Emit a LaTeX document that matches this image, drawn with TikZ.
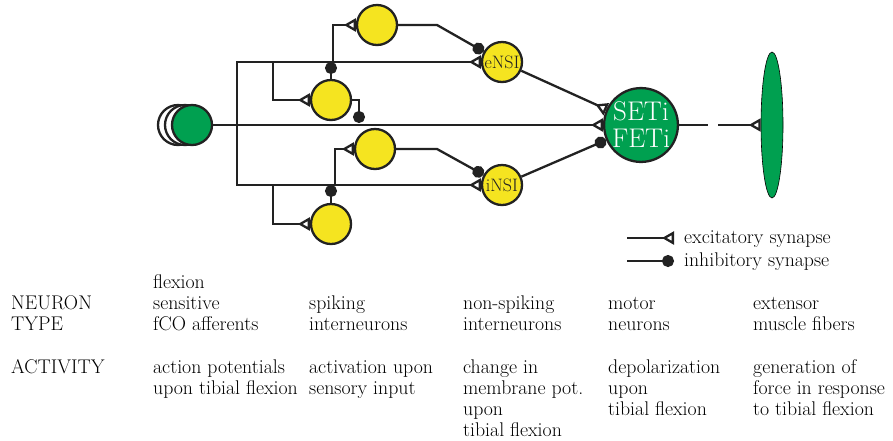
\documentclass[tikz,border=0pt]{standalone}
\usetikzlibrary{arrows.meta,shapes.geometric}
\definecolor{nyellow}{RGB}{245,228,32}
\definecolor{ngreen}{RGB}{0,160,80}
\definecolor{nline}{RGB}{34,34,34}

\begin{document}
\begin{tikzpicture}[x=1pt,y=-1pt,line width=2.3pt,
		neuron/.style={circle,draw=nline,fill=nyellow,minimum size=40pt,inner sep=0pt,text=nline,font=\fontsize{18}{18}\selectfont},
		motor/.style={circle,draw=nline,fill=ngreen,minimum size=72pt,inner sep=0pt,align=center,text=white,font=\fontsize{27}{27}\selectfont},
		afferent/.style={circle,draw=nline,fill=white,minimum size=40pt,inner sep=0pt},
		exc/.style={draw=nline,-{Triangle[open,reversed,length=12pt,width=13pt]}},
		inh/.style={draw=nline,-{Circle[length=12pt]}},
		cell/.style={anchor=north west,inner sep=0pt,align=left,font=\fontsize{19.8}{21}\selectfont},
		legend/.style={anchor=base west,inner sep=0pt,font=\fontsize{19.8}{21}\selectfont}]
			\useasboundingbox (0,0) rectangle (893,440);
			\node[afferent] (aff3) at (178,125) {};
			\node[afferent] (aff2) at (185,125) {};
			\node[afferent,fill=ngreen] (aff) at (192,125) {};
			\node[neuron] (si1) at (377,25) {};
			\node[neuron] (si2) at (331,100) {};
			\node[neuron] (si3) at (375,149) {};
			\node[neuron] (si4) at (331,224) {};
			\node[neuron] (ensi) at (502,62) {eNSI};
			\node[neuron] (insi) at (502,185) {iNSI};
			\node[motor] (mn) at (641,125) {SETi\\FETi};
			\node[ellipse,draw=black,line width=0.6pt,fill=ngreen,minimum width=22pt,minimum height=146pt,inner sep=0pt] (muscle) at (772,125) {};
			\coordinate (trunk) at (237,125);
			\coordinate (b1) at (333,62);
			\coordinate (b2) at (273,62);
			\coordinate (b3) at (335,185);
			\coordinate (b4) at (273,185);
			\coordinate (k1) at (437,25);
			\coordinate (k2) at (437,149);
			\coordinate (m1) at (359,123);
			\coordinate (d1) at (708,125);
			\coordinate (d2) at (718,125);
			\draw[exc] (aff.east) -- (mn.west);
			\draw[exc] (trunk) |- (ensi);
			\draw[exc] (trunk) |- (insi);
			\draw[exc] (b1) |- (si1);
			\draw[exc] (b2) |- (si2);
			\draw[exc] (b3) |- (si3);
			\draw[exc] (b4) |- (si4);
			\draw[inh] (si2.north) -- (si2.north |- b1);
			\draw[inh] (si4.north) -- (si4.north |- b3);
			\draw[inh] (si2.east) -| (m1);
			\draw[inh] (si1.east) -- (k1) -- (ensi);
			\draw[inh] (si3.east) -- (k2) -- (insi);
			\draw[exc] (ensi) -- (mn);
			\draw[inh] (insi) -- (mn);
			\draw[nline] (mn.east) -- (d1);
			\draw[exc] (d2) -- (muscle.west);
			\coordinate (lg1) at (627,238);
			\coordinate (lg2) at (674,238);
			\coordinate (lg3) at (627,261);
			\coordinate (lg4) at (674,261);
			\draw[exc] (lg1) -- (lg2);
			\draw[inh] (lg3) -- (lg4);
			\node[legend] (lgexc) at (683,243) {excitatory synapse};
			\node[legend] (lginh) at (683,266) {inhibitory synapse};
			\node[cell] (nt0) at (10,293.3) {\strut NEURON\\TYPE};
			\node[cell] (nt1) at (152,272.3) {\strut flexion\\sensitive\\fCO afferents};
			\node[cell] (nt2) at (308,293.3) {\strut spiking\\interneurons};
			\node[cell] (nt3) at (462,293.3) {\strut non-spiking\\interneurons};
			\node[cell] (nt4) at (607,293.3) {\strut motor\\neurons};
			\node[cell] (nt5) at (752,293.3) {\strut extensor\\muscle fibers};
			\node[cell] (ac0) at (10,357.3) {\strut ACTIVITY};
			\node[cell] (ac1) at (152,357.3) {\strut action potentials\\upon tibial flexion};
			\node[cell] (ac2) at (308,357.3) {\strut activation upon\\sensory input};
			\node[cell] (ac3) at (462,357.3) {\strut change in\\membrane pot.\\upon\\tibial flexion};
			\node[cell] (ac4) at (607,357.3) {\strut depolarization\\upon\\tibial flexion};
			\node[cell] (ac5) at (752,357.3) {\strut generation of\\force in response\\to tibial flexion};
		\end{tikzpicture}
\end{document}
